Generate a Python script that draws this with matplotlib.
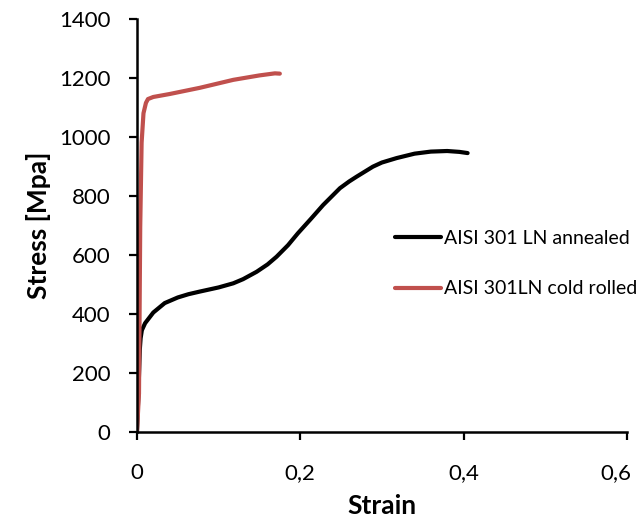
"""Stress-strain curves of AISI 301LN, annealed vs. cold rolled."""

import matplotlib

matplotlib.use("Agg")
import matplotlib.pyplot as plt  # noqa: E402
import matplotlib.transforms as mtransforms  # noqa: E402
from matplotlib.ticker import FuncFormatter  # noqa: E402

# --- annealed sheet ---
strain_annealed = [
    0, 0.002, 0.0035, 0.0045, 0.006, 0.01, 0.02, 0.034, 0.05, 0.063,
    0.077, 0.1, 0.118, 0.13, 0.1466, 0.16, 0.171, 0.185, 0.197, 0.213,
    0.228, 0.2486, 0.26, 0.269, 0.289, 0.30, 0.318, 0.34, 0.36, 0.38,
    0.395, 0.405,
]
stress_annealed = [
    0, 150, 280, 318, 345, 369, 405, 437, 456, 467,
    476, 490, 504, 518, 543, 568, 594, 633, 673, 722,
    769, 826, 849, 865, 899, 913, 928, 943, 950, 952,
    949, 945,
]

# --- cold rolled sheet ---
strain_rolled = [
    0, 0.0025, 0.004, 0.0057, 0.008, 0.011, 0.0135, 0.02, 0.04, 0.077,
    0.118, 0.15, 0.169, 0.175,
]
stress_rolled = [
    0, 131, 695, 980, 1080, 1115, 1128, 1135, 1145, 1166,
    1193, 1208, 1215, 1214,
]

label_annealed = "AISI 301 LN annealed"
label_rolled = "AISI 301LN cold rolled"

x_ticks = [0, 0.2, 0.4, 0.6]
y_ticks = [0, 200, 400, 600, 800, 1000, 1200, 1400]

plt.rcParams["font.family"] = ["Lato", "DejaVu Sans"]

fig = plt.figure(figsize=(6.37, 5.2), dpi=100)
ax = fig.add_axes([0.215, 0.169, 0.769, 0.795])

ax.plot(strain_annealed, stress_annealed, color="black", lw=3,
        solid_capstyle="round", solid_joinstyle="round",
        label=label_annealed)
ax.plot(strain_rolled, stress_rolled, color="#C0504D", lw=3,
        solid_capstyle="round", solid_joinstyle="round",
        label=label_rolled)

ax.set_xlim(0, 0.6)
ax.set_ylim(0, 1400)
ax.set_xticks(x_ticks)
ax.set_yticks(y_ticks)
ax.xaxis.set_major_formatter(
    FuncFormatter(lambda v, _: f"{v:g}".replace(".", ",")))

for side in ("top", "right"):
    ax.spines[side].set_visible(False)
for side in ("left", "bottom"):
    ax.spines[side].set_linewidth(1.8)
    ax.spines[side].set_clip_on(False)

ax.tick_params(axis="both", direction="out", length=6, width=1.6,
               labelsize=16)
ax.tick_params(axis="x", pad=16)
ax.tick_params(axis="y", pad=13)

# keep the last strain label inside the figure edge
last = ax.get_xticklabels()[-1]
last.set_transform(last.get_transform() + mtransforms.ScaledTranslation(
    -8 / 72, 0, fig.dpi_scale_trans))

ax.set_xlabel("Strain", fontsize=19, fontweight="bold", labelpad=8)
ax.set_ylabel("Stress [Mpa]", fontsize=19, fontweight="bold", labelpad=6)

ax.legend(loc="upper left", bbox_to_anchor=(0.51, 0.508), frameon=False,
          fontsize=14, handlelength=2.4, handletextpad=0.15,
          labelspacing=1.72, borderaxespad=0)

fig.savefig("out.png", dpi=100)
